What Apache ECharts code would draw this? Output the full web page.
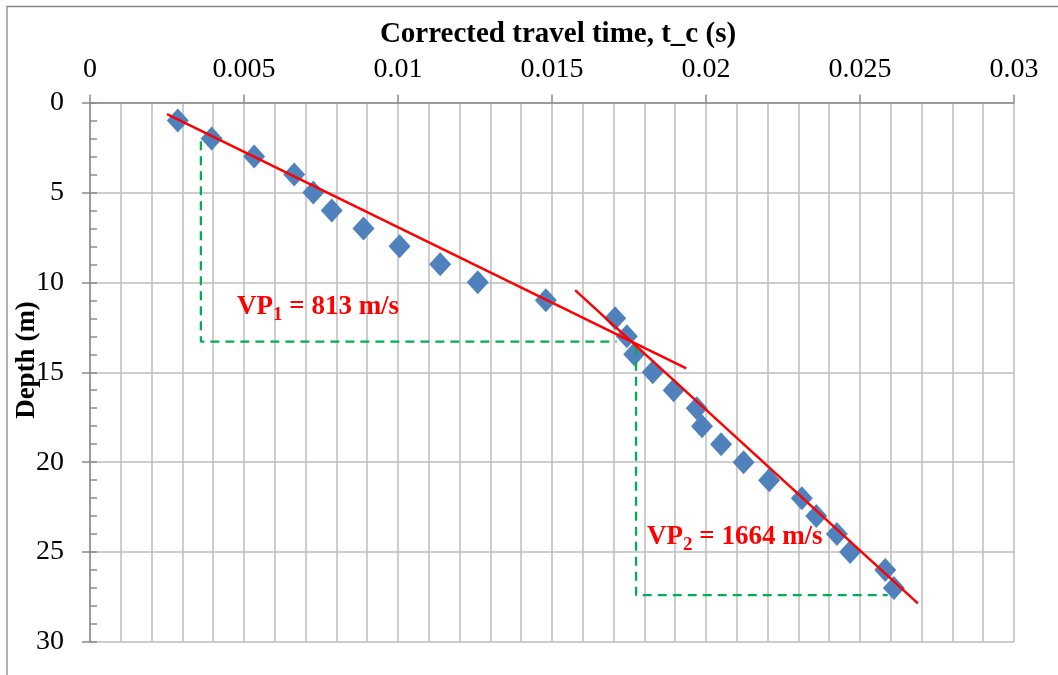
<!DOCTYPE html>
<html>
<head>
<meta charset="utf-8">
<script src="https://cdn.jsdelivr.net/npm/echarts@6/dist/echarts.min.js"></script>
<style>
html,body{margin:0;padding:0;background:#fff;}
#chart{width:1058px;height:675px;}
</style>
</head>
<body>
<div id="chart"></div>
<script>
// ---- data ----
const depth = [1,2,3,4,5,6,7,8,9,10,11,12,13,14,15,16,17,18,19,20,21,22,23,24,25,26,27];
const travelTime = [0.00285,0.00395,0.00533,0.00663,0.00725,0.00785,0.00888,0.01005,0.01137,0.01259,0.0148,
  0.01705,0.01743,0.01767,0.01827,0.01895,0.0197,0.01987,0.02049,0.02122,0.02205,0.02311,0.02358,0.02425,0.02468,0.02582,0.0261];
const fit1 = [[0.00250,0.64],[0.01936,14.78]];
const fit2 = [[0.01575,10.43],[0.02688,27.85]];
const guide1 = [[0.0036,2.15],[0.0036,13.3],[0.0171,13.3]];
const guide2 = [[0.01773,13.58],[0.01773,27.39],[0.0259,27.39]];
const xTicks = {min:0, max:0.03, interval:0.005};
const yTicks = {min:0, max:30, interval:5};

const FONT = '"Liberation Serif","Times New Roman",serif';
const chart = echarts.init(document.getElementById('chart'));
const pts = travelTime.map((t,i)=>[t, depth[i]]);
const gridColor = '#bdbdbd', axisColor = '#8a8a8a';

chart.setOption({
  animation:false,
  backgroundColor:'#fff',
  title:{text:'Corrected travel time, t_c (s)', left:553, top:15, textAlign:'center',
    textStyle:{fontFamily:FONT, fontSize:29, fontWeight:'bold', color:'#000'}},
  grid:{left:90, top:102.5, right:44, bottom:33, containLabel:false},
  xAxis:{type:'value', position:'top', min:xTicks.min, max:xTicks.max, interval:xTicks.interval,
    axisLine:{show:true, lineStyle:{color:axisColor, width:1.5}},
    axisTick:{show:true, inside:false, length:8, lineStyle:{color:axisColor, width:1.5}},
    minorTick:{show:false, splitNumber:5},
    splitLine:{show:true, lineStyle:{color:gridColor, width:1.5}},
    minorSplitLine:{show:true, lineStyle:{color:gridColor, width:1.5}},
    axisLabel:{margin:19, fontFamily:FONT, fontSize:28, color:'#000',
      formatter:v=>String(+v.toFixed(3))}
  },
  yAxis:[{type:'value', inverse:true, min:yTicks.min, max:yTicks.max, interval:yTicks.interval,
    axisLine:{show:true, lineStyle:{color:axisColor, width:1.5}},
    axisTick:{show:true, inside:false, length:8, lineStyle:{color:axisColor, width:1.5}},
    splitLine:{show:true, lineStyle:{color:gridColor, width:1.5}},
    axisLabel:{margin:26, fontFamily:FONT, fontSize:28, color:'#000'}
  },{type:'value', inverse:true, min:yTicks.min, max:yTicks.max, interval:yTicks.interval, position:'left',
    axisLine:{show:false},
    axisTick:{show:true, inside:true, length:7, lineStyle:{color:axisColor, width:1.5}},
    minorTick:{show:true, splitNumber:5, length:7, lineStyle:{color:axisColor, width:1.5}},
    splitLine:{show:false}, axisLabel:{show:false}
  }],
  series:[
    {type:'scatter', data:pts, symbol:'diamond', symbolSize:[22,24], itemStyle:{color:'#4f81bd', opacity:1}, z:3},
    {type:'line', data:guide1, showSymbol:false, symbol:'none', lineStyle:{color:'#00b050', width:2.3, type:[9,6]}, z:4},
    {type:'line', data:guide2, showSymbol:false, symbol:'none', lineStyle:{color:'#00b050', width:2.3, type:[9,6]}, z:4},
    {type:'line', data:fit1, showSymbol:false, symbol:'none', lineStyle:{color:'#ff0000', width:2.5}, z:5},
    {type:'line', data:fit2, showSymbol:false, symbol:'none', lineStyle:{color:'#ff0000', width:2.5}, z:5}
  ],
  graphic:[
    {type:'rect', shape:{x:7, y:6.5, width:1200, height:1000}, style:{fill:'none', stroke:'#878787', lineWidth:1.3}, silent:true, z:-1},
    {type:'text', rotation:Math.PI/2, x:27, y:360, style:{text:'Depth (m)', fontFamily:FONT, fontSize:27, fontWeight:'bold', fill:'#000', textAlign:'center', textVerticalAlign:'middle'}},
    {type:'text', x:237, y:307, z:10, style:{text:'{a|VP}{b|1}{a| = 813 m/s}', textVerticalAlign:'middle', fill:'#ff0000',
      rich:{a:{fontFamily:FONT, fontSize:27, fontWeight:'bold', fill:'#ff0000', color:'#ff0000'},
            b:{fontFamily:FONT, fontSize:19, fontWeight:'bold', fill:'#ff0000', color:'#ff0000', padding:[16,0,0,0]}}}},
    {type:'text', x:647, y:537, z:10, style:{text:'{a|VP}{b|2}{a| = 1664 m/s}', textVerticalAlign:'middle', fill:'#ff0000',
      rich:{a:{fontFamily:FONT, fontSize:27, fontWeight:'bold', fill:'#ff0000', color:'#ff0000'},
            b:{fontFamily:FONT, fontSize:19, fontWeight:'bold', fill:'#ff0000', color:'#ff0000', padding:[16,0,0,0]}}}}
  ]
});
</script>
</body>
</html>
